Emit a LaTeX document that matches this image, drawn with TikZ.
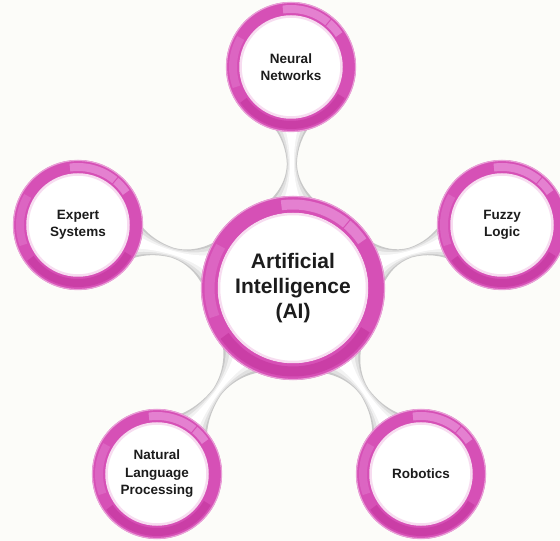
\documentclass[tikz,border=0pt]{standalone}
\usepackage{fontspec}
\setmainfont{Liberation Sans}
\usetikzlibrary{calc}
\definecolor{ringc}{RGB}{214,80,182}
\definecolor{ringhi}{RGB}{228,128,208}
\definecolor{ringdk}{RGB}{202,62,166}
\definecolor{bgc}{RGB}{252,252,249}
\definecolor{txt}{RGB}{28,28,28}
\definecolor{boneA}{RGB}{200,200,200}
\definecolor{boneB}{RGB}{224,224,224}
\definecolor{boneC}{RGB}{242,242,242}
\pgfdeclarelayer{bg}
\pgfsetlayers{bg,main}
\tikzset{
  hub/.style={circle, draw=ringc, line width=17pt, fill=white, minimum size=167pt, inner sep=0pt,
    align=center, text=txt, font=\fontsize{21}{25}\selectfont\bfseries},
  sat/.style={circle, draw=ringc, line width=14pt, fill=white, minimum size=116pt, inner sep=0pt,
    align=center, text=txt, font=\fontsize{13.5}{17.5}\selectfont\bfseries},
  hil/.style={ringhi, line cap=butt},
  dkl/.style={ringdk, line cap=butt},
  glow/.style={ringc!20, line width=2.5pt},
  rim/.style={ringc!55, line width=1.2pt}
}
% one layer of a connector between b1 (hub edge) and b2 (satellite edge); #1 satellite node, #2 width factor, #3 colour
\newcommand\bonelayer[3]{%
  \pgfmathsetmacro\bwA{32*#2}%
  \pgfmathsetmacro\bwB{12*#2}%
  \pgfmathsetmacro\bwC{5.5*#2}%
  \pgfmathsetmacro\bwM{5*#2}%
  \pgfmathsetmacro\bwD{10*#2}%
  \pgfmathsetmacro\bwE{22*#2}%
  \fill[#3]
    ($(b1)!-12pt!(#1.center)!\bwA pt!90:(#1.center)$)
    .. controls ($(b1)!2pt!(#1.center)!\bwB pt!90:(#1.center)$) and ($(bm)!-14pt!(#1.center)!\bwC pt!90:(#1.center)$)
    .. ($(bm)!\bwM pt!90:(#1.center)$)
    .. controls ($(bm)!14pt!(#1.center)!\bwC pt!90:(#1.center)$) and ($(b2)!-3pt!(#1.center)!\bwD pt!90:(#1.center)$)
    .. ($(b2)!10pt!(#1.center)!\bwE pt!90:(#1.center)$)
    -- ($(b2)!10pt!(#1.center)!-\bwE pt!90:(#1.center)$)
    .. controls ($(b2)!-3pt!(#1.center)!-\bwD pt!90:(#1.center)$) and ($(bm)!14pt!(#1.center)!-\bwC pt!90:(#1.center)$)
    .. ($(bm)!-\bwM pt!90:(#1.center)$)
    .. controls ($(bm)!-14pt!(#1.center)!-\bwC pt!90:(#1.center)$) and ($(b1)!2pt!(#1.center)!-\bwB pt!90:(#1.center)$)
    .. ($(b1)!-12pt!(#1.center)!-\bwA pt!90:(#1.center)$)
    -- cycle;
}
% #1 hub node, #2 satellite node, #3 hub radius, #4 satellite radius
\newcommand\bone[4]{%
  \coordinate (b1) at ($(#1.center)!#3pt!(#2.center)$);
  \coordinate (b2) at ($(#2.center)!#4pt!(#1.center)$);
  \coordinate (bm) at ($(b1)!0.5!(b2)$);
  \bonelayer{#2}{1}{boneA}
  \bonelayer{#2}{0.85}{boneB}
  \bonelayer{#2}{0.62}{boneC}
  \bonelayer{#2}{0.38}{white}
}
% ring decoration: #1 node, #2 mid radius, #3 width, #4 inner radius, #5 outer radius
\newcommand\ringdeco[5]{%
  \draw[dkl, line width=#3pt] ([shift={(215:#2)}]#1.center) arc[start angle=215, end angle=330, radius=#2];
  \draw[hil, line width=#3pt] ([shift={(34:#2)}]#1.center) arc[start angle=34, end angle=98, radius=#2];
  \draw[ringc, line width=1pt] ([shift={(50:#4)}]#1.center) -- ([shift={(50:#5)}]#1.center);
  \draw[ringhi!45!ringc, line width=#3pt] ([shift={(150:#2)}]#1.center) arc[start angle=150, end angle=200, radius=#2];
  \draw[glow] (#1.center) circle[radius=#4];
  \draw[rim] (#1.center) circle[radius=#5];
}
\begin{document}
\begin{tikzpicture}[x=1pt, y=1pt]
\useasboundingbox (0,0) rectangle (560,541);
\clip (0,0) rectangle (560,541);
\begin{pgfonlayer}{bg}
  \fill[bgc] (0,0) rectangle (560,541);
\end{pgfonlayer}

\node[hub] (ai) at (293,253) {Artificial\\Intelligence\\(AI)};
\node[sat] (nn) at (291,474) {Neural\\Networks};
\node[sat] (es) at (78,316) {Expert\\Systems};
\node[sat] (fl) at (502,316) {Fuzzy\\Logic};
\node[sat] (nlp) at (157,67) {Natural\\Language\\Processing};
\node[sat] (rob) at (421,67) {Robotics};

\begin{pgfonlayer}{bg}
  \bone{ai}{nn}{92}{65}
  \bone{ai}{es}{92}{65}
  \bone{ai}{fl}{92}{65}
  \bone{ai}{nlp}{92}{65}
  \bone{ai}{rob}{92}{65}
\end{pgfonlayer}

\ringdeco{ai}{83.5}{10}{74}{91.5}
\ringdeco{nn}{58}{8}{50.5}{64.5}
\ringdeco{es}{58}{8}{50.5}{64.5}
\ringdeco{fl}{58}{8}{50.5}{64.5}
\ringdeco{nlp}{58}{8}{50.5}{64.5}
\ringdeco{rob}{58}{8}{50.5}{64.5}
\end{tikzpicture}
\end{document}
